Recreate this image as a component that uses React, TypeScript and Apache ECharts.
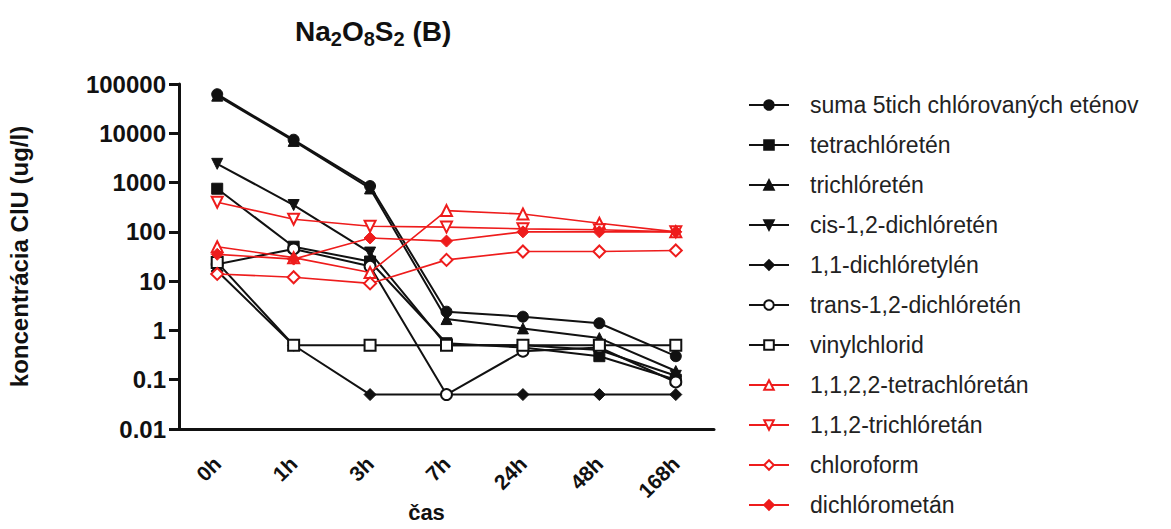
import React, { useEffect, useRef } from "react";
import * as echarts from "echarts";

const categories = ["0h", "1h", "3h", "7h", "24h", "48h", "168h"];
const yTickValues = [0.01, 0.1, 1, 10, 100, 1000, 10000, 100000];

const suma = [62000, 7400, 850, 2.4, 1.9, 1.4, 0.3];
const tetrachloreten = [750, 50, 25, 0.55, 0.45, 0.3, 0.1];
const trichloreten = [58000, 7000, 760, 1.7, 1.1, 0.7, 0.15];
const cisDichloreten = [2400, 350, 38, 0.5, 0.5, 0.4, 0.12];
const dichloretylen11 = [16, 0.5, 0.05, 0.05, 0.05, 0.05, 0.05];
const transDichloreten = [22, 45, 20, 0.05, 0.38, 0.45, 0.09];
const vinylchlorid = [24, 0.5, 0.5, 0.5, 0.5, 0.5, 0.5];
const tetrachloretan = [50, 30, 15, 270, 230, 150, 100];
const trichloretan = [400, 180, 130, 125, 115, 110, 100];
const chloroform = [14, 12, 9, 27, 40, 40, 42];
const dichlorometan = [35, 28, 75, 65, 100, 100, 100];

const BLACK = "#111111";
const RED = "#ee1c1c";

type Def = { name: string; data: number[]; color: string; symbol: string; rotate?: number; hollow?: boolean };

const defs: Def[] = [
  { name: "suma 5tich chlórovaných eténov", data: suma, color: BLACK, symbol: "circle" },
  { name: "tetrachlóretén", data: tetrachloreten, color: BLACK, symbol: "rect" },
  { name: "trichlóretén", data: trichloreten, color: BLACK, symbol: "triangle" },
  { name: "cis-1,2-dichlóretén", data: cisDichloreten, color: BLACK, symbol: "triangle", rotate: 180 },
  { name: "1,1-dichlóretylén", data: dichloretylen11, color: BLACK, symbol: "diamond" },
  { name: "trans-1,2-dichlóretén", data: transDichloreten, color: BLACK, symbol: "circle", hollow: true },
  { name: "vinylchlorid", data: vinylchlorid, color: BLACK, symbol: "rect", hollow: true },
  { name: "1,1,2,2-tetrachlóretán", data: tetrachloretan, color: RED, symbol: "triangle", hollow: true },
  { name: "1,1,2-trichlóretán", data: trichloretan, color: RED, symbol: "triangle", rotate: 180, hollow: true },
  { name: "chloroform", data: chloroform, color: RED, symbol: "diamond", hollow: true },
  { name: "dichlórometán", data: dichlorometan, color: RED, symbol: "diamond" },
];

export default function App() {
  const ref = useRef<HTMLDivElement>(null);
  useEffect(() => {
    if (!ref.current) return;
    const chart = echarts.init(ref.current, undefined, { renderer: "svg" });
    const font = "'Liberation Sans', Arial, sans-serif";
    chart.setOption({
      animation: false,
      backgroundColor: "#ffffff",
      textStyle: { fontFamily: font },
      title: {
        text: "{a|Na}{s|2}{a|O}{s|8}{a|S}{s|2}{a| (B)}",
        left: 290,
        top: 12,
        textStyle: {
          rich: {
            a: { fontSize: 28, fontWeight: "bold", color: "#111", lineHeight: 32, verticalAlign: "top", fontFamily: font },
            s: { fontSize: 20, fontWeight: "bold", color: "#111", lineHeight: 20, verticalAlign: "bottom", fontFamily: font },
          },
        },
      },
      legend: {
        orient: "vertical",
        left: 743,
        top: 88,
        itemWidth: 40,
        itemHeight: 12,
        itemGap: 16,
        data: defs.map((d) => d.name),
        textStyle: { fontSize: 23, lineHeight: 24, color: "#222", fontFamily: font, padding: [0, 0, 0, 16] },
      },
      grid: { left: 179, top: 84, width: 535, height: 345, containLabel: false, outerBoundsMode: "none" },
      xAxis: {
        type: "category",
        data: categories,
        boundaryGap: true,
        name: "čas",
        nameLocation: "middle",
        nameGap: 72,
        nameMoveOverlap: false,
        nameTextStyle: { fontSize: 22, lineHeight: 22, fontWeight: "bold", color: "#111", padding: [0, 40, 0, 0] },
        axisLine: { lineStyle: { color: BLACK, width: 3 } },
        axisTick: { alignWithLabel: true, length: 10, lineStyle: { width: 3, color: BLACK } },
        axisLabel: { rotate: 45, fontSize: 21, fontWeight: "bold", color: "#111", margin: 31 },
        splitLine: { show: false },
      },
      yAxis: {
        type: "log",
        logBase: 10,
        min: yTickValues[0],
        max: yTickValues[yTickValues.length - 1],
        name: "koncentrácia ClU (ug/l)",
        nameLocation: "middle",
        nameGap: 148,
        nameMoveOverlap: false,
        nameTextStyle: { fontSize: 24, fontWeight: "bold", color: "#111" },
        axisLine: { show: true, lineStyle: { color: BLACK, width: 3 } },
        axisTick: { show: true, length: 10, lineStyle: { width: 3, color: BLACK } },
        axisLabel: {
          fontSize: 24,
          fontWeight: "bold",
          color: "#111",
          margin: 13,
          formatter: (v: number) => String(Number(Number(v).toPrecision(6))),
        },
        splitLine: { show: false },
      },
      series: defs.map((d) => ({
        name: d.name,
        type: "line",
        data: d.data,
        symbol: d.symbol,
        symbolSize: d.symbol === "diamond" ? 12 : 11,
        symbolRotate: d.rotate || 0,
        lineStyle: { color: d.color, width: d.color === RED ? 1.6 : 2 },
        itemStyle: d.hollow
          ? { color: "#ffffff", borderColor: d.color, borderWidth: 2 }
          : { color: d.color, borderColor: d.color, borderWidth: 1 },
        z: d.color === RED ? 3 : 2,
      })),
    });
    return () => chart.dispose();
  }, []);
  return <div ref={ref} style={{ position: "fixed", left: 0, top: 0, width: 1171, height: 529 }} />;
}
